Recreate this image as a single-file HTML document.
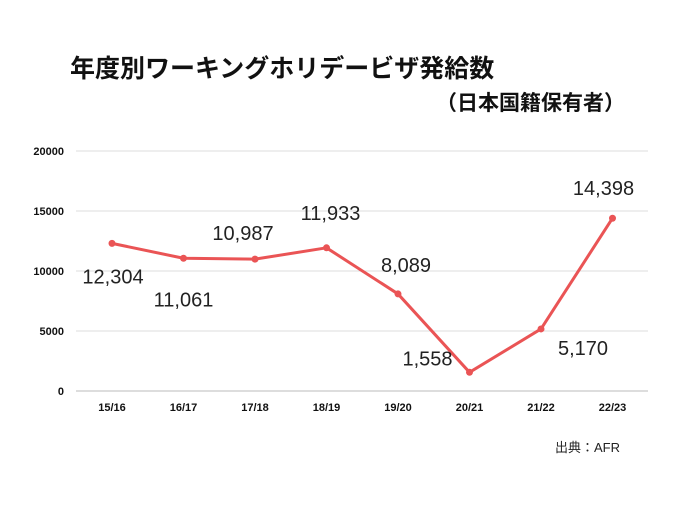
<!DOCTYPE html>
<html><head><meta charset="utf-8"><style>
body{margin:0;background:#fff;}
svg text{font-family:"Liberation Sans","Noto Sans CJK JP",sans-serif;}
</style></head><body>
<svg width="700" height="525" viewBox="0 0 700 525" id="chart">
<text x="70" y="77" font-size="25" font-weight="bold" fill="#111">年度別ワーキングホリデービザ発給数</text>
<text x="625" y="110" font-size="21" font-weight="bold" fill="#111" text-anchor="end">（日本国籍保有者）</text>
<text x="620" y="452" font-size="13" fill="#222" text-anchor="end">出典：AFR</text>
<g id="grid"></g><g id="xlab"></g><g id="series"></g><g id="vlabels"></g>
</svg>
<script>
const categories=["15/16","16/17","17/18","18/19","19/20","20/21","21/22","22/23"];
const values=[12304,11061,10987,11933,8089,1558,5170,14398];
const valueLabels=["12,304","11,061","10,987","11,933","8,089","1,558","5,170","14,398"];
const yTicks=[0,5000,10000,15000,20000];
const NS="http://www.w3.org/2000/svg";
const x=i=>112+i*71.5;
const y=v=>391-v*0.012;
function mk(t,a,p){const e=document.createElementNS(NS,t);for(const k in a)e.setAttribute(k,a[k]);p.appendChild(e);return e;}
const grid=document.getElementById('grid');
yTicks.forEach(t=>{
 const l=mk('line',{x1:76,x2:648,y1:y(t),y2:y(t),stroke:t===0?'#bbb':'#ddd','stroke-width':1},grid);
 
 
 const tx=mk('text',{x:64,y:y(t)+4,'font-size':11,'font-weight':'bold','text-anchor':'end',fill:'#111'},grid);
 tx.textContent=t;
 
 
});
const xl=document.getElementById('xlab');
categories.forEach((c,i)=>{
 const tx=mk('text',{x:x(i),y:411,'font-size':11,'font-weight':'bold','text-anchor':'middle',fill:'#111'},xl);
 tx.textContent=c;
 
 
});
const s=document.getElementById('series');
const pl=mk('polyline',{points:values.map((v,i)=>x(i)+','+y(v)).join(' '),fill:'none',stroke:'#ea5455','stroke-width':3,'stroke-linejoin':'round'},s);


values.forEach((v,i)=>{
 const c=mk('circle',{cx:x(i),cy:y(v),r:3.5,fill:'#ea5455'},s);
 
 
});
const off=[[1,40],[0,48],[-12,-19],[4,-28],[8,-22],[-42,-7],[42,26],[-9,-23]];
const vl=document.getElementById('vlabels');
values.forEach((v,i)=>{
 const tx=mk('text',{x:x(i)+off[i][0],y:y(v)+off[i][1],'font-size':20,'text-anchor':'middle',fill:'#222'},vl);
 tx.textContent=valueLabels[i];
 
 
});
</script>
</body></html>
